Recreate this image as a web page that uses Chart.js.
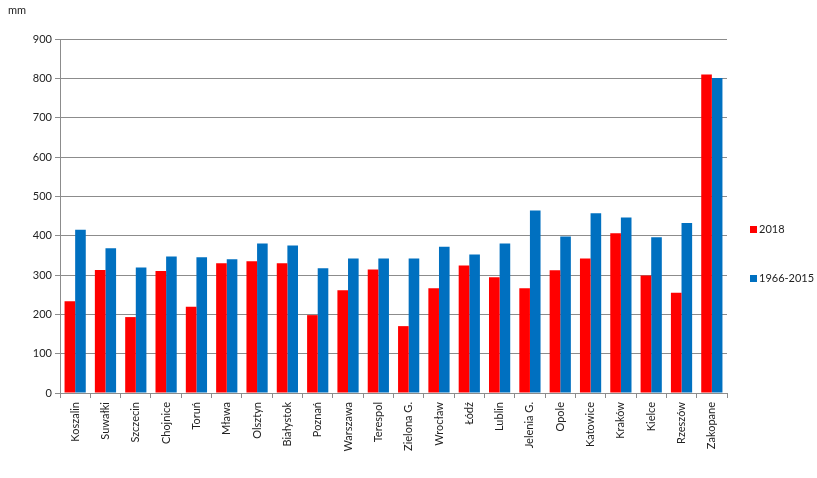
<!DOCTYPE html>
<html>
<head>
<meta charset="utf-8">
<script src="https://cdn.jsdelivr.net/npm/chart.js@4"></script>
<style>
  html, body { margin: 0; padding: 0; background: #fff; }
  #wrap { position: relative; width: 817px; height: 478px; }
  #unit { position: absolute; left: 8px; top: 3px; font: 11px Lato, "Open Sans", sans-serif; color: #222; }
  .leg { position: absolute; left: 750px; font: 11px Lato, "Open Sans", sans-serif; color: #222; white-space: nowrap; }
  .leg span { display: inline-block; width: 7px; height: 7px; margin-right: 2px; vertical-align: 0px; }
</style>
</head>
<body>
<div id="wrap">
  <canvas id="chart" width="817" height="478"></canvas>
  <div id="unit">mm</div>
  <div class="leg" style="top:222px"><span style="background:#ff0000"></span>2018</div>
  <div class="leg" style="top:271px"><span style="background:#0070c0"></span>1966-2015</div>
</div>
<script>
// Categories and series (mm of precipitation)
const stations = ["Koszalin", "Suwałki", "Szczecin", "Chojnice", "Toruń", "Mława", "Olsztyn",
  "Białystok", "Poznań", "Warszawa", "Terespol", "Zielona G.", "Wrocław", "Łódź", "Lublin",
  "Jelenia G.", "Opole", "Katowice", "Kraków", "Kielce", "Rzeszów", "Zakopane"];
const values2018 = [233, 313, 193, 310, 219, 330, 335, 330, 198, 261, 314, 170, 266, 324, 294, 266, 312, 342, 406, 299, 255, 810];
const valuesNorm = [415, 368, 319, 347, 345, 340, 380, 375, 317, 342, 342, 342, 372, 352, 380, 464, 398, 457, 446, 396, 432, 801];
const yTicks = [0, 100, 200, 300, 400, 500, 600, 700, 800, 900];

const FONT = { family: 'Lato, "Open Sans", sans-serif', size: 11 };
const GRID = '#8c8c8c';

new Chart(document.getElementById('chart').getContext('2d'), {
  type: 'bar',
  data: {
    labels: stations,
    datasets: [
      { label: '2018', data: values2018, backgroundColor: '#ff0000', borderWidth: 0 },
      { label: '1966-2015', data: valuesNorm, backgroundColor: '#0070c0', borderWidth: 0 }
    ]
  },
  options: {
    responsive: false,
    animation: false,
    layout: { padding: { top: 39, right: 90, left: 0, bottom: 0 } },
    plugins: { legend: { display: false }, tooltip: { enabled: false } },
    datasets: { bar: { categoryPercentage: 0.7, barPercentage: 1.0 } },
    scales: {
      x: {
        grid: { display: true, drawOnChartArea: false, drawTicks: true, tickLength: 5, color: GRID, offset: true },
        border: { color: GRID },
        ticks: { color: '#222', font: FONT, minRotation: 90, maxRotation: 90, autoSkip: false, padding: 4 },
        afterFit: (s) => { s.height = 85; }
      },
      y: {
        min: 0, max: 900,
        afterBuildTicks: (s) => { s.ticks = yTicks.map(v => ({ value: v })); },
        grid: { color: GRID, tickLength: 5 },
        border: { color: GRID },
        ticks: { color: '#222', font: FONT, padding: 3 },
        afterFit: (s) => { s.width = 60; }
      }
    }
  }
});
</script>
</body>
</html>
